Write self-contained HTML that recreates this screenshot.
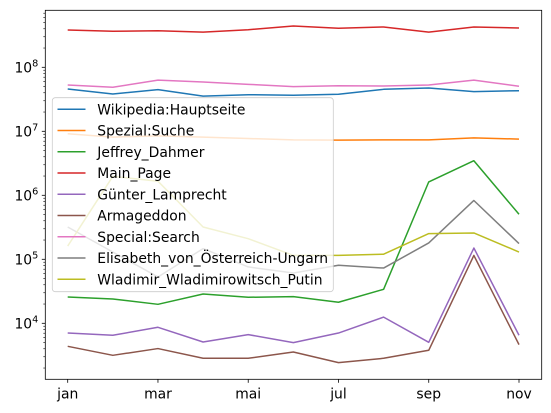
<!DOCTYPE html>
<html><head><meta charset="utf-8"><style>
html,body{margin:0;padding:0;background:#fff;}
svg{display:block;font-family:"DejaVu Sans","Liberation Sans",sans-serif;}
</style></head><body>
<svg id="chart" width="551" height="413" viewBox="0 0 551 413" xmlns="http://www.w3.org/2000/svg"></svg>
<script>
const months = ["jan","feb","mar","apr","mai","jun","jul","aug","sep","okt","nov"];
const tickMonths = ["jan","mar","mai","jul","sep","nov"];
const seriesNames = ["Wikipedia:Hauptseite","Spezial:Suche","Jeffrey_Dahmer","Main_Page","Günter_Lamprecht","Armageddon","Special:Search","Elisabeth_von_Österreich-Ungarn","Wladimir_Wladimirowitsch_Putin"];
const seriesColors = ["#1f77b4","#ff7f0e","#2ca02c","#d62728","#9467bd","#8c564b","#e377c2","#7f7f7f","#bcbd22"];
const wikiHauptseite = [4.58e7,3.83e7,4.47e7,3.55e7,3.73e7,3.65e7,3.79e7,4.53e7,4.75e7,4.16e7,4.31e7];
const spezialSuche = [9.14e6,8.11e6,8.5e6,8.11e6,7.72e6,7.36e6,7.29e6,7.36e6,7.36e6,7.91e6,7.55e6];
const jeffreyDahmer = [2.57e4,2.4e4,1.98e4,2.87e4,2.55e4,2.61e4,2.13e4,3.4e4,1.62e6,3.47e6,5.05e5];
const mainPage = [3.83e8,3.65e8,3.73e8,3.55e8,3.87e8,4.41e8,4.07e8,4.27e8,3.55e8,4.27e8,4.12e8];
const guenterLamprecht = [7.05e3,6.5e3,8.66e3,5.1e3,6.66e3,4.99e3,7.05e3,1.25e4,5.05e3,1.5e5,6.5e3];
const armageddon = [4.37e3,3.16e3,4.03e3,2.84e3,2.84e3,3.56e3,2.43e3,2.84e3,3.79e3,1.15e5,4.64e3];
const specialSearch = [5.28e7,4.87e7,6.3e7,5.89e7,5.42e7,4.98e7,5.16e7,5.1e7,5.28e7,6.3e7,5.05e7];
const elisabeth = [3.2e5,1.3e5,5.3e4,1.47e5,7.6e4,6.1e4,8.06e4,7.3e4,1.8e5,8.3e5,1.76e5];
const putin = [1.61e5,1.98e6,1.66e6,3.2e5,2.1e5,1.15e5,1.15e5,1.2e5,2.52e5,2.58e5,1.3e5];
const allSeries = [wikiHauptseite,spezialSuche,jeffreyDahmer,mainPage,guenterLamprecht,armageddon,specialSearch,elisabeth,putin];
const yDecades = [4,5,6,7,8];

const L=45.3,R=541.7,T=10.3,B=379.3;
const yTopLog=8+(67.3-T)/64, yBotLog=8-(B-67.3)/64;
function xScale(i){return 67.7+i*(519-67.7)/(months.length-1);}
function yScale(v){const l=Math.log10(v);return T+(yTopLog-l)/(yTopLog-yBotLog)*(B-T);}
const svg=document.getElementById('chart');
const NS="http://www.w3.org/2000/svg";
function mk(tag,attrs,parent){const e=document.createElementNS(NS,tag);for(const k in attrs)e.setAttribute(k,attrs[k]);(parent||svg).appendChild(e);return e;}

const gS=mk('g',{});


allSeries.forEach((s,si)=>{
  const d=s.map((v,i)=>(i?'L':'M')+xScale(i).toFixed(2)+' '+yScale(v).toFixed(2)).join(' ');
  const p=mk('path',{d:d,fill:'none',stroke:seriesColors[si],'stroke-width':1.5,'stroke-linejoin':'round'},gS);
  
  
});

const fr=mk('rect',{x:L,y:T,width:R-L,height:B-T,fill:'none',stroke:'#000','stroke-width':0.8});



const gY=mk('g',{});


for(let d=3;d<=8;d++){
  for(let m=1;m<=9;m++){
    const v=m*Math.pow(10,d);const y=yScale(v);
    if(y<T-0.5||y>B+0.5)continue;
    mk('line',{x1:L,x2:L-(m===1?3.5:2),y1:y,y2:y,stroke:'#000','stroke-width':m===1?0.8:0.6},gY);
  }
}
yDecades.forEach(d=>{
  const y=yScale(Math.pow(10,d));
  const t=mk('text',{x:L-7,y:y+5,'text-anchor':'end','font-size':'13.9px',fill:'#000'},gY);
  
  
  t.innerHTML='10<tspan dy="-6" font-size="9.7px">'+d+'</tspan>';
});

const gX=mk('g',{});


tickMonths.forEach(m=>{
  const x=xScale(months.indexOf(m));
  mk('line',{x1:x,x2:x,y1:B,y2:B+3.5,stroke:'#000','stroke-width':0.8},gX);
  const t=mk('text',{x:x,y:B+19,'text-anchor':'middle','font-size':'13.9px',fill:'#000'},gX);
  
  
  t.textContent=m;
});

const gL=mk('g',{});


mk('rect',{x:52.3,y:97.7,width:281,height:194,rx:3,fill:'#fff','fill-opacity':0.8,stroke:'#ccc','stroke-width':0.8},gL);
seriesNames.forEach((n,i)=>{
  const y=109.3+i*21.25;
  const e=mk('g',{},gL);
  
  
  mk('line',{x1:57.5,x2:85.5,y1:y,y2:y,stroke:seriesColors[i],'stroke-width':1.5},e);
  const t=mk('text',{x:97.3,y:y+5,'font-size':'13.9px',fill:'#000'},e);
  t.textContent=n;
});
</script>
</body></html>
